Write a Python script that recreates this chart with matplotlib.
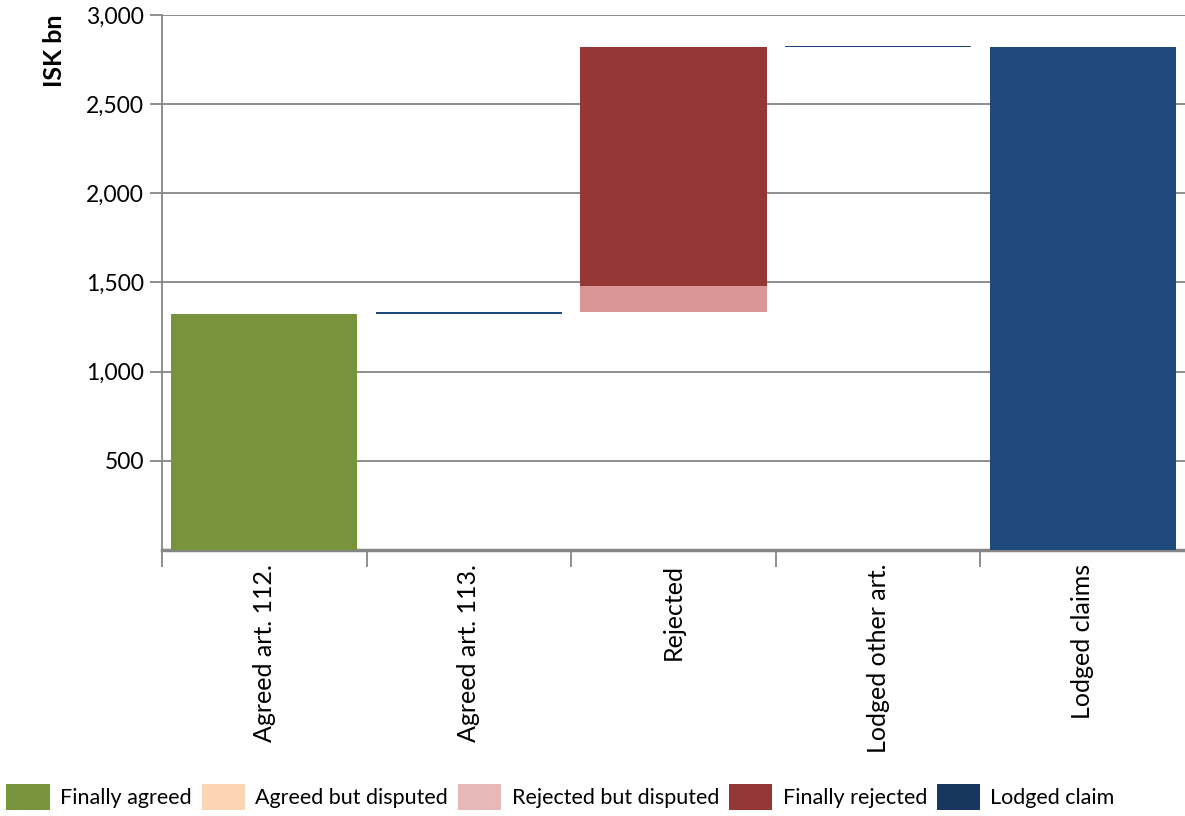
"""Waterfall of lodged claims, ISK bn."""

import matplotlib

matplotlib.use("Agg")
import matplotlib.pyplot as plt
import numpy as np
from matplotlib.patches import Patch

categories = ["Agreed art. 112.", "Agreed art. 113.", "Rejected",
              "Lodged other art.", "Lodged claims"]
base = [0, 1323, 1337, 2819, 0]
finally_agreed = [1323, 0, 0, 0, 0]
agreed_disputed = [0, 0, 0, 0, 0]
rejected_disputed = [0, 0, 145, 0, 0]
finally_rejected = [0, 0, 1337, 0, 0]
lodged_claim = [0, 9, 0, 8, 2819]

legend_labels = ["Finally agreed", "Agreed but disputed", "Rejected but disputed",
                 "Finally rejected", "Lodged claim"]

bar_colors = ["#77933C", "#FCD5B5", "#D99694", "#953735", "#1F497D"]
legend_colors = ["#77933C", "#FCD5B5", "#E6B9B8", "#953735", "#17375E"]
grey = "#868686"

plt.rcParams["font.family"] = ["Lato", "DejaVu Sans"]

fig = plt.figure(figsize=(11.85, 8.16), dpi=100)
ax = fig.add_axes([0.1367, 0.326, 0.8633, 0.6556])

x = np.arange(len(categories))
bottom = np.array(base, dtype=float)
for values, color in zip(
    [finally_agreed, agreed_disputed, rejected_disputed, finally_rejected, lodged_claim],
    bar_colors,
):
    ax.bar(x, values, bottom=bottom, width=0.91, color=color, linewidth=0, zorder=3)
    bottom += np.array(values, dtype=float)

ax.set_xlim(-0.5, len(categories) - 0.5)
ax.set_ylim(0, 3000)
ax.set_yticks([500, 1000, 1500, 2000, 2500, 3000])
ax.set_yticklabels(["500", "1,000", "1,500", "2,000", "2,500", "3,000"])
ax.yaxis.grid(True, color=grey, linewidth=1.3, zorder=0)
ax.tick_params(axis="y", length=9, width=1.3, color=grey, labelsize=16.5, pad=4)

ax.set_xticks(x)
ax.set_xticklabels(categories, rotation=90, fontsize=18)
ax.tick_params(axis="x", which="major", length=0, pad=10)
ax.set_xticks(np.arange(len(categories)) - 0.5, minor=True)
ax.tick_params(axis="x", which="minor", length=12, width=1.3, color=grey)

for side in ("top", "right"):
    ax.spines[side].set_visible(False)
ax.spines["left"].set_color(grey)
ax.spines["left"].set_linewidth(1.3)
ax.spines["bottom"].set_color(grey)
ax.spines["bottom"].set_linewidth(2.5)

fig.text(0.046, 0.982, "ISK bn", rotation=90, ha="center", va="top",
         fontsize=18, fontweight="bold")

handles = [Patch(facecolor=c, edgecolor="none") for c in legend_colors]
fig.legend(handles, legend_labels, loc="lower left", bbox_to_anchor=(0.0, -0.001),
           ncol=5, frameon=False, fontsize=15.5, handlelength=2.0, handleheight=1.5,
           handletextpad=0.5, columnspacing=0.45, borderaxespad=0.0, borderpad=0.3)

fig.savefig("out.png", dpi=100)
